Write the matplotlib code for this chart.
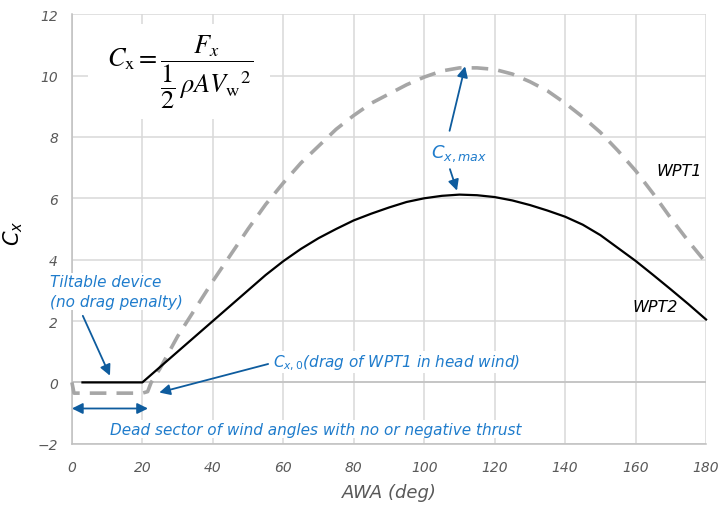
import numpy as np
import matplotlib as mpl
import matplotlib.pyplot as plt
from matplotlib.patches import Rectangle

# data (5 deg steps)
awa_wpt2 = [3, 20, 25, 30, 35, 40, 45, 50, 55, 60, 65, 70, 75, 80, 85, 90, 95, 100, 105, 110,
            115, 120, 125, 130, 135, 140, 145, 150, 155, 160, 165, 170, 175, 180]
cx_wpt2 = [0, 0, 0.5, 1.0, 1.5, 2.0, 2.5, 3.0, 3.5, 3.95, 4.35, 4.7, 5.0, 5.28, 5.5, 5.7, 5.88, 6.0, 6.08, 6.12,
           6.1, 6.04, 5.93, 5.78, 5.6, 5.4, 5.14, 4.8, 4.38, 3.96, 3.5, 3.03, 2.55, 2.05]

awa_wpt1 = [0, 0.6, 20, 21.5, 22.5, 25, 30, 35, 40, 45, 50, 55, 60, 65, 70, 75, 80, 85, 90, 95, 100,
            105, 110, 115, 120, 125, 130, 135, 140, 145, 150, 155, 160, 165, 170, 175, 180]
cx_wpt1 = [0, -0.35, -0.35, -0.3, 0.0, 0.45, 1.5, 2.4, 3.3, 4.15, 5.0, 5.8, 6.5, 7.15, 7.7, 8.25, 8.7, 9.1, 9.4, 9.7, 9.95,
           10.15, 10.25, 10.25, 10.2, 10.05, 9.8, 9.5, 9.1, 8.65, 8.15, 7.55, 6.9, 6.15, 5.35, 4.6, 3.9]

xticks = list(range(0, 181, 20))
yticks = list(range(-2, 13, 2))

blue_txt = '#1f7ccc'
blue_arr = '#0e5c9e'
grid_c = '#d9d9d9'
tick_c = '#595959'

plt.rcParams['font.family'] = ['DejaVu Sans']
plt.rcParams['mathtext.fontset'] = 'dejavusans'

fig = plt.figure(figsize=(7.19, 5.06), dpi=100)
ax = fig.add_axes([0.100, 0.121, 0.882, 0.849])

ax.set_xlim(0, 180)
ax.set_ylim(-2, 12)
ax.set_xticks(xticks)
ax.set_yticks(yticks)
ax.set_xticklabels([str(v) for v in xticks], fontstyle='italic', fontsize=10, color=tick_c)
ax.set_yticklabels([str(v).replace('-', '\u2212') for v in yticks], fontstyle='italic', fontsize=10, color=tick_c)
ax.tick_params(axis='x', length=0, pad=12)
ax.tick_params(axis='y', length=0, pad=10)
ax.grid(True, color=grid_c, linewidth=1.1, zorder=0)
ax.set_axisbelow(True)
for s in ['top', 'right']:
    ax.spines[s].set_visible(False)
for s in ['left', 'bottom']:
    ax.spines[s].set_color('#bfbfbf')
    ax.spines[s].set_linewidth(1.1)
ax.axhline(0, color='#bfbfbf', linewidth=1.1, zorder=1)

# white box behind the formula
ax.add_patch(Rectangle((0.025, 0.756), 0.287, 0.221, transform=ax.transAxes,
                       facecolor='white', edgecolor='none', zorder=2))

ax.plot(awa_wpt1, cx_wpt1, color='#a6a6a6', linewidth=2.6, linestyle=(0, (4.6, 2.8)),
        zorder=3, clip_on=False)
ax.plot(awa_wpt2, cx_wpt2, color='black', linewidth=1.6, zorder=4, clip_on=False)

ax.set_xlabel('AWA (deg)', fontstyle='italic', fontsize=13, color=tick_c)
ax.xaxis.set_label_coords(0.5, -0.092)
ax.set_ylabel(r'$C_x$', fontsize=15, color='black')
ax.yaxis.set_label_coords(-0.074, 0.493)

ax.text(0.170, 0.866, r'$C_{\mathrm{x}} = \dfrac{F_x}{\dfrac{1}{2}\,\rho A {V_{\mathrm{w}}}^{2}}$',
        transform=ax.transAxes, fontsize=19, ha='center', va='center',
        math_fontfamily='stix', zorder=5)

# curve labels
ax.text(172.5, 6.9, 'WPT1', fontstyle='italic', fontsize=11.5, ha='center', va='center')
ax.text(165.5, 2.47, 'WPT2', fontstyle='italic', fontsize=11.5, ha='center', va='center')

# annotations
arr = dict(arrowstyle='-|>', color=blue_arr, lw=1.3, mutation_scale=16, shrinkA=0, shrinkB=0)
ax.text(-6.3, 2.96, 'Tiltable device\n(no drag penalty)', fontstyle='italic', fontsize=11,
        color=blue_txt, ha='left', va='center', linespacing=1.35, clip_on=False,
        bbox=dict(facecolor='white', edgecolor='none', pad=1), zorder=5)
ax.annotate('', xy=(10.8, 0.22), xytext=(3.1, 2.17), arrowprops=arr, annotation_clip=False)

ax.text(57.2, 0.65, r'$C_{x,0}$(drag of WPT1 in head wind)', fontstyle='italic', fontsize=11,
        color=blue_txt, ha='left', va='center',
        bbox=dict(facecolor='white', edgecolor='none', pad=1), zorder=5)
ax.annotate('', xy=(24.8, -0.33), xytext=(55.7, 0.6), arrowprops=arr)

ax.annotate('', xy=(0, -0.85), xytext=(21.6, -0.85),
            arrowprops=dict(arrowstyle='<|-|>', color=blue_arr, lw=1.3, mutation_scale=16,
                            shrinkA=0, shrinkB=0), annotation_clip=False)
ax.text(10.8, -1.52, 'Dead sector of wind angles with no or negative thrust', fontstyle='italic',
        fontsize=11, color=blue_txt, ha='left', va='center',
        bbox=dict(facecolor='white', edgecolor='none', pad=1), zorder=5)

ax.text(109.8, 7.5, r'$C_{x,max}$', fontsize=13, color=blue_txt, ha='center', va='center')
ax.annotate('', xy=(111.6, 10.3), xytext=(107.2, 8.2), arrowprops=arr)
ax.annotate('', xy=(109.3, 6.25), xytext=(107.3, 6.95), arrowprops=arr)

fig.savefig('out.png', dpi=100)
